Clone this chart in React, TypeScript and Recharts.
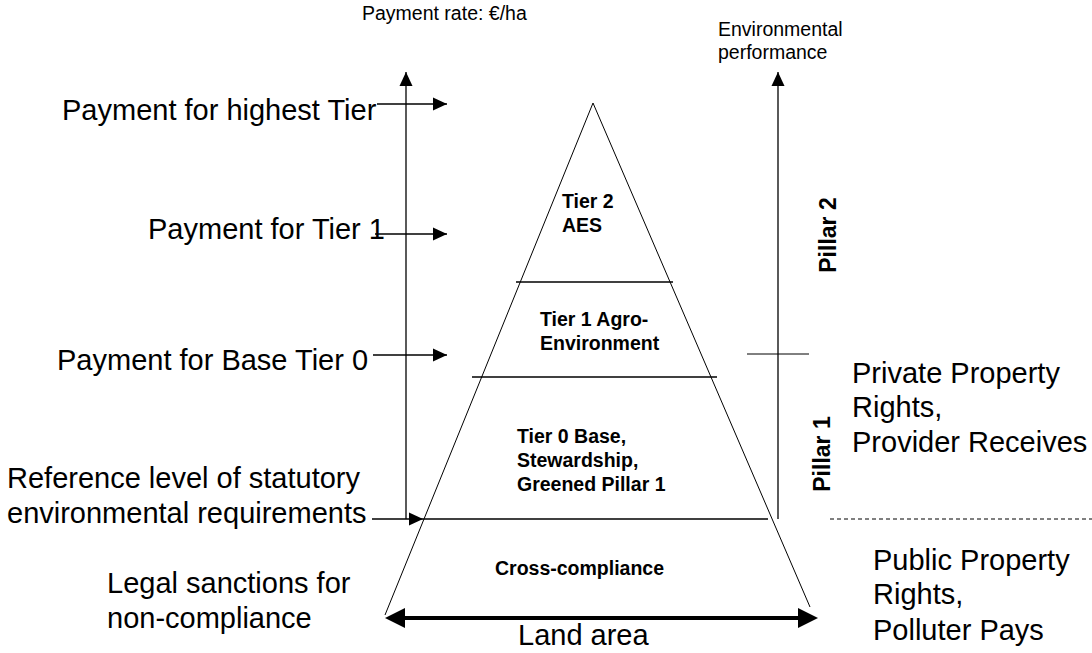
import { ComposedChart, XAxis, YAxis, ReferenceLine, Scatter } from "recharts";

// diagram space: x runs across, y runs down (same units as the page)
const W = 1092;
const H = 653;

const pyramidSides = [
  [{ x: 593, y: 103 }, { x: 385, y: 615 }],
  [{ x: 593, y: 103 }, { x: 810, y: 607 }],
];

const tierLines = [
  [{ x: 516, y: 282 }, { x: 673, y: 282 }],
  [{ x: 472, y: 377 }, { x: 717, y: 377 }],
  [{ x: 423, y: 519 }, { x: 768, y: 519 }],
];

const axisArrows = [
  [{ x: 406, y: 519 }, { x: 406, y: 72 }],
  [{ x: 778, y: 519 }, { x: 778, y: 72 }],
];

const paymentArrows = [
  [{ x: 377, y: 104 }, { x: 447, y: 104 }],
  [{ x: 375, y: 234 }, { x: 447, y: 234 }],
  [{ x: 373, y: 355 }, { x: 447, y: 355 }],
  [{ x: 372, y: 519 }, { x: 423, y: 519 }],
];

const pillarTick = [{ x: 747, y: 354 }, { x: 809, y: 354 }];
const propertyDivider = [{ x: 830, y: 519 }, { x: W, y: 519 }];
const landArea = [{ x: 385, y: 618 }, { x: 818, y: 618 }];

const bigLabels = [
  { x: 62, y: 120, text: "Payment for highest Tier" },
  { x: 148, y: 239, text: "Payment for Tier 1" },
  { x: 57, y: 370, text: "Payment for Base Tier 0" },
  { x: 7, y: 488, text: "Reference level of statutory" },
  { x: 7, y: 523, text: "environmental requirements" },
  { x: 107, y: 593, text: "Legal sanctions for" },
  { x: 107, y: 628, text: "non-compliance" },
  { x: 518, y: 645, text: "Land area" },
  { x: 852, y: 383, text: "Private Property" },
  { x: 852, y: 417, text: "Rights," },
  { x: 852, y: 452, text: "Provider Receives" },
  { x: 873, y: 570, text: "Public Property" },
  { x: 873, y: 604, text: "Rights," },
  { x: 873, y: 640, text: "Polluter Pays" },
];

const axisTitles = [
  { x: 362, y: 20, text: "Payment rate: €/ha" },
  { x: 718, y: 36, text: "Environmental" },
  { x: 718, y: 59, text: "performance" },
];

const tierLabels = [
  { x: 562, y: 208, text: "Tier 2" },
  { x: 562, y: 232, text: "AES" },
  { x: 540, y: 326, text: "Tier 1 Agro-" },
  { x: 540, y: 350, text: "Environment" },
  { x: 517, y: 443, text: "Tier 0 Base," },
  { x: 517, y: 467, text: "Stewardship," },
  { x: 517, y: 491, text: "Greened Pillar 1" },
  { x: 495, y: 575, text: "Cross-compliance" },
];

const pillarLabels = [
  { x: 828, y: 235, text: "Pillar 2" },
  { x: 822, y: 454, text: "Pillar 1" },
];

const FONT = "'Liberation Sans', Arial, Helvetica, sans-serif";

function head(x1: number, y1: number, x2: number, y2: number, len: number, half: number) {
  const dx = x2 - x1;
  const dy = y2 - y1;
  const d = Math.hypot(dx, dy) || 1;
  const ux = dx / d;
  const uy = dy / d;
  const bx = x2 - ux * len;
  const by = y2 - uy * len;
  return `${x2},${y2} ${bx - uy * half},${by + ux * half} ${bx + uy * half},${by - ux * half}`;
}

const ArrowShape = (props: any) => {
  const { x1, y1, x2, y2 } = props;
  return (
    <g>
      <line x1={x1} y1={y1} x2={x2} y2={y2} stroke="#000" strokeWidth={1.3} />
      <polygon points={head(x1, y1, x2, y2, 14, 6.5)} fill="#000" />
    </g>
  );
};

const DoubleArrowShape = (props: any) => {
  const { x1, y1, x2, y2 } = props;
  return (
    <g>
      <line x1={x1 + 15} y1={y1} x2={x2 - 15} y2={y2} stroke="#000" strokeWidth={4} />
      <polygon points={head(x1, y1, x2, y2, 20, 10)} fill="#000" />
      <polygon points={head(x2, y2, x1, y1, 20, 10)} fill="#000" />
    </g>
  );
};

const textShape = (size: number, weight: string) => (props: any) => (
  <text
    x={props.cx}
    y={props.cy}
    fontSize={size}
    fontWeight={weight}
    fontFamily={FONT}
    fill="#000"
  >
    {props.payload.text}
  </text>
);

const PillarShape = (props: any) => (
  <text
    x={props.cx}
    y={props.cy}
    fontSize={23}
    fontWeight="bold"
    fontFamily={FONT}
    fill="#000"
    textAnchor="middle"
    dominantBaseline="central"
    transform={`rotate(-90 ${props.cx} ${props.cy})`}
  >
    {props.payload.text}
  </text>
);

export default function App() {
  return (
    <div style={{ position: "absolute", left: 0, top: 0, background: "#fff" }}>
      <ComposedChart width={W} height={H} margin={{ top: 0, right: 0, bottom: 0, left: 0 }}>
        <XAxis type="number" dataKey="x" domain={[0, W]} hide />
        <YAxis type="number" dataKey="y" domain={[0, H]} reversed hide />

        {pyramidSides.map((s, i) => (
          <ReferenceLine key={`side${i}`} segment={s} stroke="#000" strokeWidth={1} ifOverflow="visible" />
        ))}
        {tierLines.map((s, i) => (
          <ReferenceLine key={`tier${i}`} segment={s} stroke="#000" strokeWidth={1.3} ifOverflow="visible" />
        ))}
        <ReferenceLine segment={pillarTick} stroke="#000" strokeWidth={1} ifOverflow="visible" />
        <ReferenceLine
          segment={propertyDivider}
          stroke="#000"
          strokeWidth={1}
          strokeDasharray="4 3"
          ifOverflow="visible"
        />
        {axisArrows.map((s, i) => (
          <ReferenceLine key={`axis${i}`} segment={s} shape={ArrowShape} ifOverflow="visible" />
        ))}
        {paymentArrows.map((s, i) => (
          <ReferenceLine key={`pay${i}`} segment={s} shape={ArrowShape} ifOverflow="visible" />
        ))}
        <ReferenceLine segment={landArea} shape={DoubleArrowShape} ifOverflow="visible" />

        <Scatter data={bigLabels} shape={textShape(29, "normal")} isAnimationActive={false} />
        <Scatter data={axisTitles} shape={textShape(19.5, "normal")} isAnimationActive={false} />
        <Scatter data={tierLabels} shape={textShape(19.5, "bold")} isAnimationActive={false} />
        <Scatter data={pillarLabels} shape={PillarShape} isAnimationActive={false} />
      </ComposedChart>
    </div>
  );
}
